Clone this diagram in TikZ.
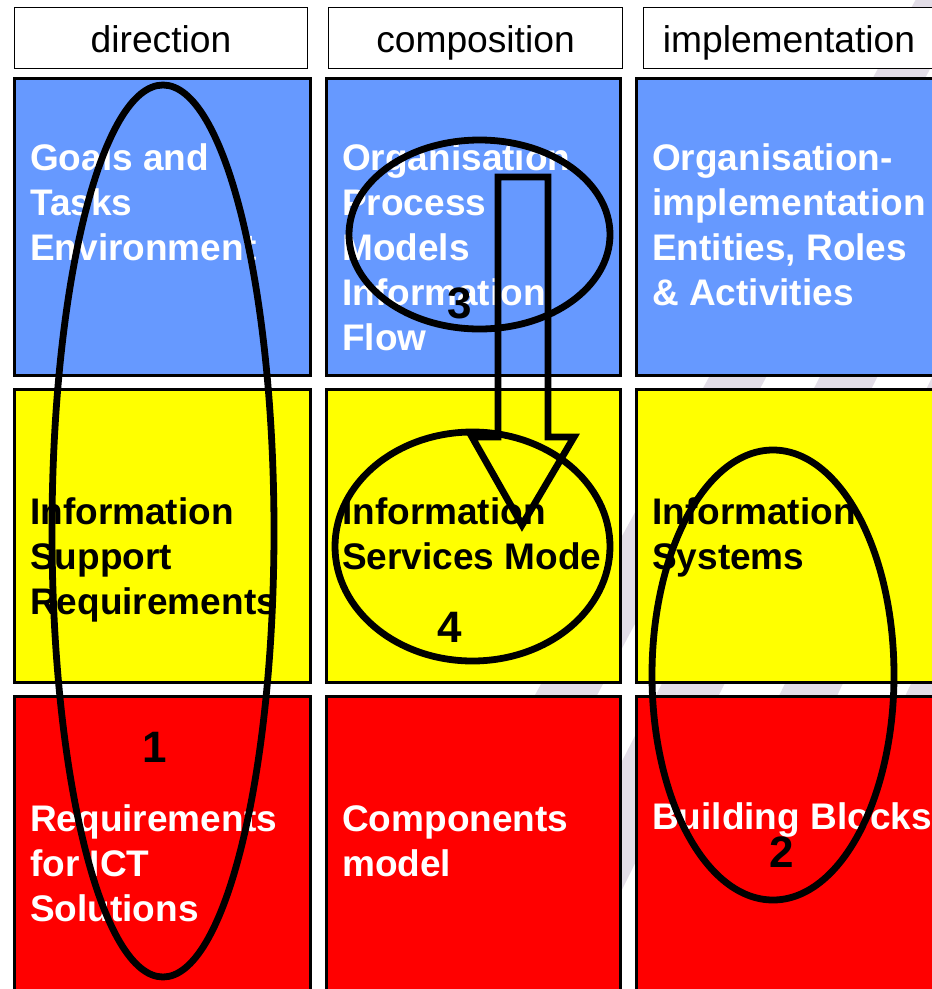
\documentclass[tikz,border=0pt]{standalone}
\usepackage{fontspec}
\setmainfont{Liberation Sans}
\definecolor{cblue}{RGB}{102,153,255}
\definecolor{cyel}{RGB}{255,255,0}
\definecolor{cred}{RGB}{255,0,0}
\definecolor{bandc}{RGB}{226,221,231}
\newcommand{\fstrut}{\rule{0pt}{30pt}}
\begin{document}
\begin{tikzpicture}[x=1pt,y=-1pt,
  hdrbox/.style={draw=black, line width=1.2pt, fill=white},
  cellbox/.style={draw=black, line width=3pt},
  celltxt/.style={anchor=north west, inner sep=0pt, align=left,
    font=\fontsize{37}{45}\selectfont\bfseries},
  hdrtxt/.style={anchor=base, inner sep=0pt, font=\fontsize{37.2}{44}\selectfont},
  numtxt/.style={anchor=base, inner sep=0pt, font=\fontsize{44}{50}\selectfont\bfseries},
  ring/.style={draw=black, line width=6.8pt},
  bigarrow/.style={draw=black, line width=6.8pt, line join=miter}]
\useasboundingbox (0,0) rectangle (932,989);
\clip (0,0) rectangle (932,989);
\fill[white] (0,0) rectangle (932,989);
% faint background bands
\fill[bandc] (921,-10) -- (972,-10) -- (435,1000) -- (368,1000) -- cycle;
\fill[bandc] (1019,-10) -- (1070,-10) -- (567,1000) -- (499,1000) -- cycle;
\fill[bandc] (1118,-10) -- (1169,-10) -- (694,1000) -- (633,1000) -- cycle;
\fill[bandc] (1240,-10) -- (1290,-10) -- (825,1000) -- (761,1000) -- cycle;
% header boxes
\draw[hdrbox] (14.6,7.6) rectangle (307.4,68.4);
\draw[hdrbox] (328.6,7.6) rectangle (622.4,68.4);
\draw[hdrbox] (643.6,7.6) rectangle (945,68.4);
\node[hdrtxt] (hdir) at (161,52) {direction};
\node[hdrtxt] (hcomp) at (475.5,52) {composition};
\node[hdrtxt] (himpl) at (789,52) {implementation};
% cells
\draw[cellbox, fill=cblue] (14.5,78.5) rectangle (310.5,375.5);
\draw[cellbox, fill=cblue] (326.5,78.5) rectangle (620.5,375.5);
\draw[cellbox, fill=cblue] (636.5,78.5) rectangle (950,375.5);
\draw[cellbox, fill=cyel] (14.5,389.5) rectangle (310.5,682.5);
\draw[cellbox, fill=cyel] (326.5,389.5) rectangle (620.5,682.5);
\draw[cellbox, fill=cyel] (636.5,389.5) rectangle (950,682.5);
\draw[cellbox, fill=cred] (14.5,696.5) rectangle (310.5,1010);
\draw[cellbox, fill=cred] (326.5,696.5) rectangle (620.5,1010);
\draw[cellbox, fill=cred] (636.5,696.5) rectangle (950,1010);
% cell texts
\node[celltxt, text=white] (t11) at (30,140) {\fstrut Goals and\\Tasks\\Environment};
\node[celltxt, text=white] (t12) at (342,140) {\fstrut Organisation\\Process\\Models\\Information\\Flow};
\node[celltxt, text=white] (t13) at (652,140) {\fstrut Organisation-\\implementation\\Entities, Roles\\\& Activities};
\node[celltxt, text=black] (t21) at (30,494) {\fstrut Information\\Support\\Requirements};
\node[celltxt, text=black] (t22) at (342,494) {\fstrut Information\\Services Mode};
\node[celltxt, text=black] (t23) at (652,494) {\fstrut Information\\Systems};
\node[celltxt, text=white] (t31) at (30,801) {\fstrut Requirements\\for ICT\\Solutions};
\node[celltxt, text=white] (t32) at (342,801) {\fstrut Components\\model};
\node[celltxt, text=white] (t33) at (652,799) {\fstrut Building Blocks};
% ellipses
\draw[ring] (163,531) ellipse [x radius=111, y radius=446];
\draw[ring] (773,675) ellipse [x radius=121, y radius=225];
\draw[ring] (479.5,234.5) ellipse [x radius=130.5, y radius=94.5];
\draw[ring] (472.5,546.5) ellipse [x radius=137.5, y radius=114.5];
% block arrow
\draw[bigarrow] (498,177) -- (548,177) -- (548,437) -- (574,437) -- (522,525)
  -- (472,437) -- (498,437) -- cycle;
% numbers
\node[numtxt] (n1) at (155,762) {1};
\node[numtxt] (n2) at (782,867) {2};
\node[numtxt] (n3) at (460,318) {3};
\node[numtxt] (n4) at (450,642) {4};
\end{tikzpicture}
\end{document}
